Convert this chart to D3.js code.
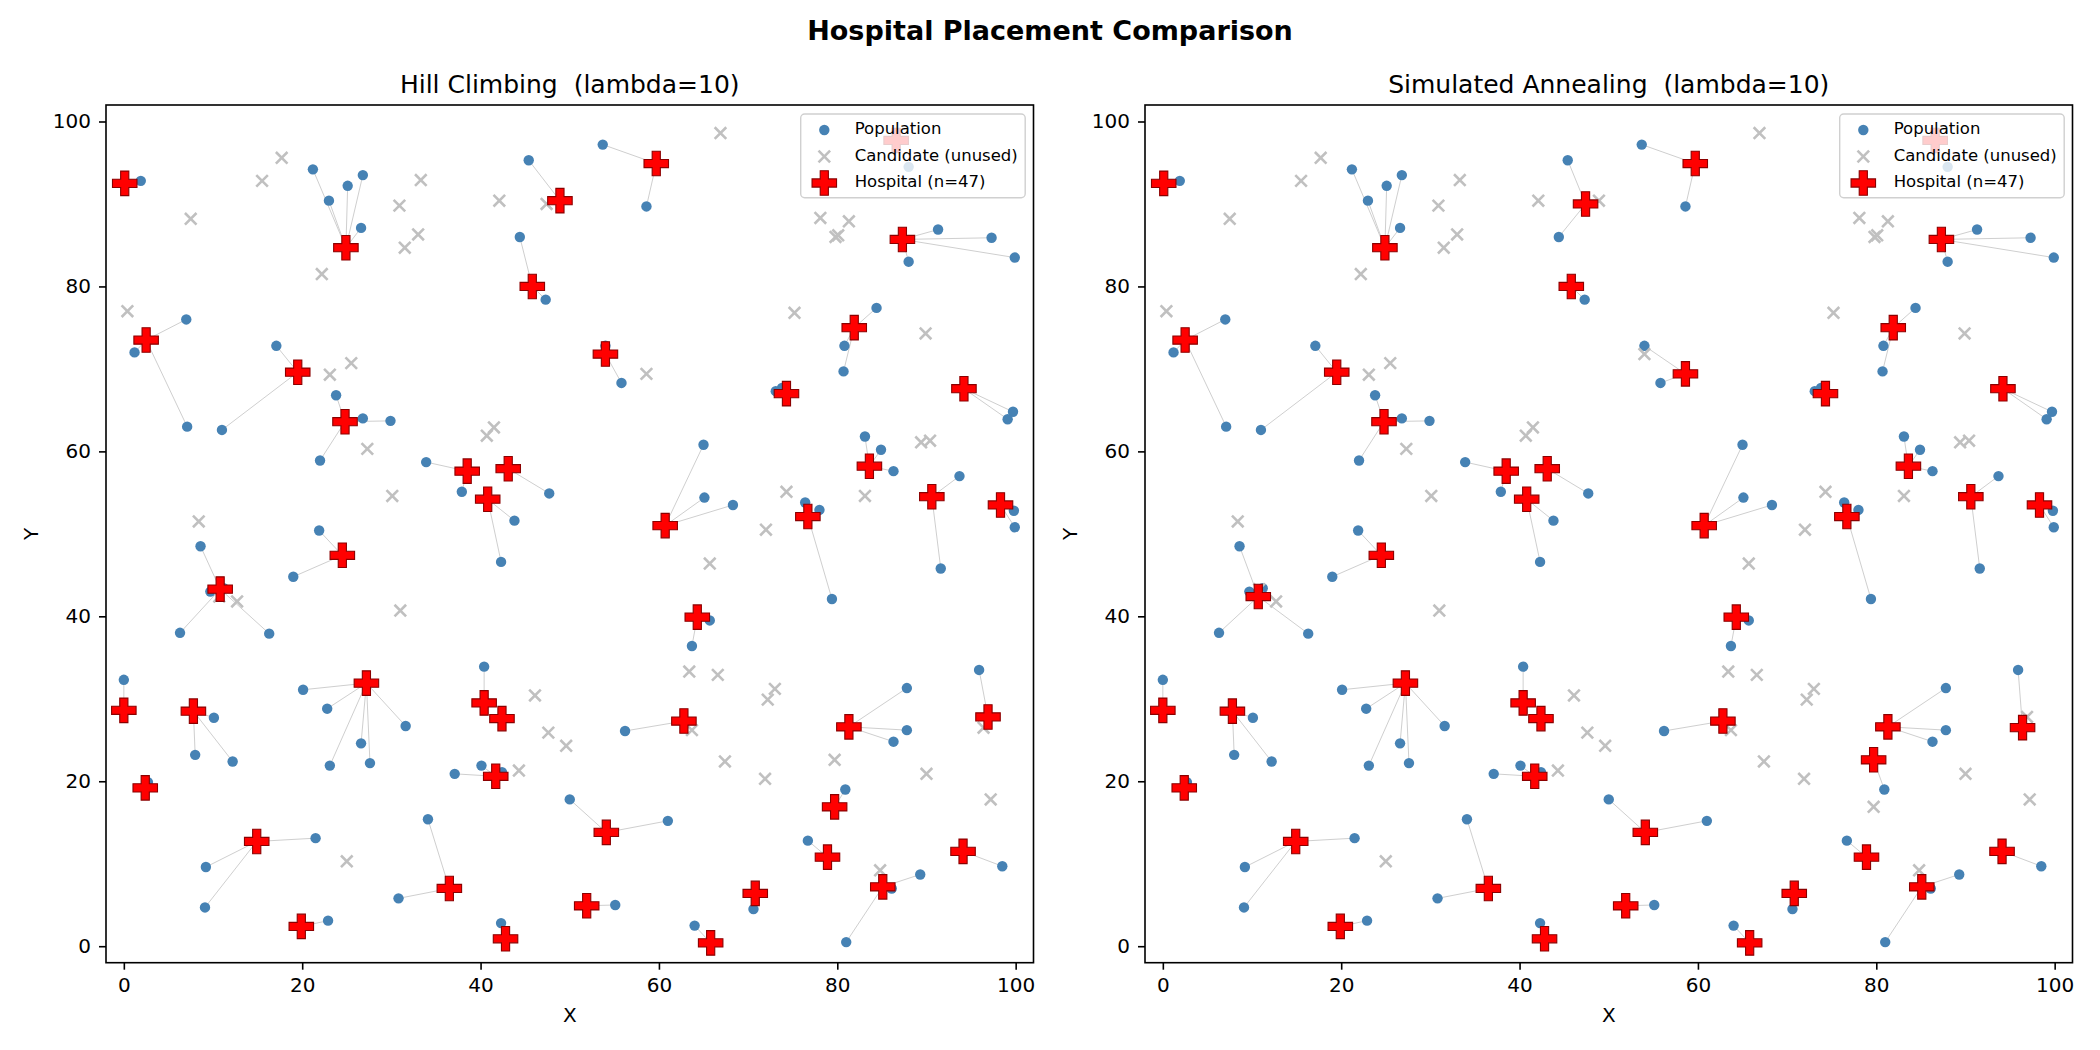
<!DOCTYPE html>
<html>
<head>
<meta charset="utf-8">
<script src="https://cdn.jsdelivr.net/npm/d3@7"></script>
<style>
  body { margin: 0; background: #fff; }
  text { font-family: 'DejaVu Sans', sans-serif; fill: #000; }
</style>
</head>
<body>
<div id="chart"></div>
<script>
// population points (same in both runs)
const population = [
  [1.9, 92.8], [21.2, 94.2], [26.8, 93.5], [25.1, 92.2], [23.0, 90.4], [26.6, 87.1], [45.4, 95.3], [44.4, 86.0], [47.3, 78.4],
  [7.0, 76.0], [1.2, 72.0], [7.1, 63.0], [17.1, 72.8], [11.0, 62.6], [23.8, 66.8], [26.8, 64.0], [29.9, 63.7], [22.0, 58.9],
  [33.9, 58.7], [37.9, 55.1], [47.7, 54.9], [43.8, 51.6], [21.9, 50.4],
  [53.7, 97.2], [58.6, 89.7], [88.0, 94.5], [91.3, 86.9], [97.3, 85.9], [99.9, 83.5], [88.0, 83.0], [84.4, 77.4], [80.8, 72.8], [80.7, 69.7],
  [54.0, 72.8], [55.8, 68.3], [73.1, 67.3], [73.8, 67.7], [99.7, 64.8], [99.1, 63.9], [83.1, 61.8], [84.9, 60.2], [86.3, 57.6], [93.7, 57.0],
  [99.8, 52.8], [99.9, 50.8], [65.0, 60.8], [65.1, 54.4], [68.3, 53.5], [76.4, 53.8], [78.0, 52.9],
  [8.6, 48.5], [9.7, 43.0], [11.2, 43.4], [6.3, 38.0], [16.3, 37.9], [19.0, 44.8], [42.3, 46.6], [0.0, 32.3], [10.1, 27.7], [8.0, 23.2], [12.2, 22.4], [2.7, 19.9],
  [20.1, 31.1], [22.8, 28.8], [31.6, 26.7], [26.6, 24.6], [27.6, 22.2], [23.1, 21.9], [40.4, 33.9], [40.1, 21.9], [37.1, 20.9], [42.4, 21.1], [50.0, 17.8],
  [34.1, 15.4], [30.8, 5.8], [21.5, 13.1], [9.2, 9.6], [9.1, 4.7], [22.9, 3.1], [42.3, 2.8],
  [79.4, 42.1], [91.6, 45.8], [65.7, 39.5], [63.7, 36.4], [87.8, 31.3], [87.8, 26.2], [86.3, 24.8], [95.9, 33.5], [56.2, 26.1], [80.9, 19.0],
  [61.0, 15.2], [76.7, 12.8], [98.5, 9.7], [86.1, 7.0], [89.3, 8.7], [81.0, 0.5], [55.1, 5.0], [70.6, 4.5], [64.0, 2.5]
]

// hospital sites chosen by both methods
const sharedHospitals = [
  [0.1, 92.5], [24.9, 84.7], [45.8, 80.0], [2.5, 73.5], [19.5, 69.6], [24.8, 63.6], [38.5, 57.6], [43.1, 57.9], [40.8, 54.2],
  [59.7, 94.9], [86.6, 97.7], [87.3, 85.7], [81.9, 75.0], [74.3, 67.0], [94.2, 67.6], [83.6, 58.2], [90.6, 54.5], [98.3, 53.5],
  [60.7, 51.0], [76.7, 52.1], [24.5, 47.4], [0.0, 28.6], [7.8, 28.5], [2.4, 19.2], [27.2, 31.9], [40.4, 29.5], [42.4, 27.6],
  [41.7, 20.6], [36.5, 7.0], [14.9, 12.7], [19.9, 2.4], [42.8, 0.9], [64.3, 39.9], [81.3, 26.6], [62.8, 27.3], [54.1, 13.8],
  [78.9, 10.8], [94.1, 11.5], [85.1, 7.2], [51.9, 4.9], [70.8, 6.4], [65.8, 0.4]
]
const hillClimbingOnly = [[48.9, 90.4], [54.0, 71.8], [10.8, 43.3], [96.9, 27.8], [79.7, 16.9]]
const annealingOnly = [[47.4, 90.0], [58.6, 69.4], [10.7, 42.4], [96.4, 26.5], [79.7, 22.6]]

// candidate sites unused by both methods
const unusedSites = [
  [17.7, 95.6], [15.5, 92.8], [7.5, 88.2], [22.2, 81.5], [33.3, 92.9], [30.9, 89.8], [33.0, 86.3], [31.5, 84.7], [42.1, 90.4],
  [0.4, 77.0], [23.1, 69.3], [25.5, 70.7], [27.3, 60.3], [40.7, 61.9], [41.5, 62.9], [30.1, 54.6], [8.4, 51.5],
  [66.9, 98.6], [78.1, 88.3], [81.3, 87.9], [80.1, 86.2], [79.8, 86.0], [75.2, 76.8], [89.9, 74.3], [89.4, 61.1], [90.4, 61.3],
  [83.1, 54.6], [74.3, 55.1], [72.0, 50.5],
  [12.7, 41.8], [31.0, 40.7], [46.1, 30.4], [47.6, 25.9], [49.6, 24.3], [44.3, 21.3], [25.0, 10.3],
  [65.7, 46.4], [63.4, 33.3], [66.6, 32.9], [73.0, 31.2], [72.2, 29.9], [63.7, 26.2], [67.4, 22.4], [71.9, 20.3], [90.0, 20.9],
  [97.2, 17.8], [84.8, 9.2]
]

const axisTicks = [0, 20, 40, 60, 80, 100]
const panelTitles = ['Hill Climbing  (lambda=10)', 'Simulated Annealing  (lambda=10)']

const panels = [
  { title: panelTitles[0], left: 106, hospitals: sharedHospitals.concat(hillClimbingOnly), unused: unusedSites.concat(annealingOnly) },
  { title: panelTitles[1], left: 1145, hospitals: sharedHospitals.concat(annealingOnly), unused: unusedSites.concat(hillClimbingOnly) }
]

const plotTop = 105
const width = 927.5
const height = 857.7

const svg = d3.select('#chart')
  .append('svg')
  .attr('width', 2100)
  .attr('height', 1050)

svg.append('text')
  .attr('x', 1050)
  .attr('y', 40)
  .attr('text-anchor', 'middle')
  .style('font-size', '27px')
  .style('font-weight', 'bold')
  .text('Hospital Placement Comparison')

// filled plus like matplotlib 'P'
function plusPath (s) {
  const a = s / 2
  const b = s / 6
  return `M${-b},${-a}H${b}V${-b}H${a}V${b}H${b}V${a}H${-b}V${b}H${-a}V${-b}H${-b}Z`
}
function crossPath (s) {
  return `M${-s},${-s}L${s},${s}M${-s},${s}L${s},${-s}`
}

panels.forEach(panel => {
  const g = svg.append('g').attr('transform', `translate(${panel.left}, ${plotTop})`)

  const x = d3.scaleLinear().domain([-2, 102]).range([0, width])
  const y = d3.scaleLinear().domain([-2, 102]).range([height, 0])

  // each person linked to its closest hospital
  const links = population.map(p => ({
    p,
    h: d3.least(panel.hospitals, h => (h[0] - p[0]) ** 2 + (h[1] - p[1]) ** 2)
  }))

  g.append('g').selectAll('line')
    .data(links)
    .enter()
    .append('line')
    .attr('x1', d => x(d.p[0]))
    .attr('y1', d => y(d.p[1]))
    .attr('x2', d => x(d.h[0]))
    .attr('y2', d => y(d.h[1]))
    .attr('stroke', '#cfcfcf')
    .attr('stroke-width', 1)

  g.append('g').selectAll('circle')
    .data(population)
    .enter()
    .append('circle')
    .attr('cx', d => x(d[0]))
    .attr('cy', d => y(d[1]))
    .attr('r', 5.2)
    .attr('fill', '#4682b4')

  g.append('g').selectAll('path')
    .data(panel.unused)
    .enter()
    .append('path')
    .attr('transform', d => `translate(${x(d[0])}, ${y(d[1])})`)
    .attr('d', crossPath(5.8))
    .attr('stroke', '#c0c0c0')
    .attr('stroke-width', 2.6)
    .attr('fill', 'none')

  g.append('g').selectAll('path')
    .data(panel.hospitals)
    .enter()
    .append('path')
    .attr('transform', d => `translate(${x(d[0])}, ${y(d[1])})`)
    .attr('d', plusPath(24.5))
    .attr('fill', '#ff0000')
    .attr('stroke', '#8b0000')
    .attr('stroke-width', 1.1)

  // axes
  const xAxis = g.append('g')
    .attr('transform', `translate(0, ${height})`)
    .call(d3.axisBottom(x).tickValues(axisTicks).tickSize(7).tickPadding(8))
  const yAxis = g.append('g')
    .call(d3.axisLeft(y).tickValues(axisTicks).tickSize(7).tickPadding(8))
  ;[xAxis, yAxis].forEach(a => {
    a.select('.domain').remove()
    a.selectAll('line').attr('stroke', '#000').attr('stroke-width', 1.6)
    a.selectAll('text').style('font-size', '20px').style('font-family', "'DejaVu Sans', sans-serif").attr('fill', '#000')
  })

  g.append('rect')
    .attr('width', width)
    .attr('height', height)
    .attr('fill', 'none')
    .attr('stroke', '#000')
    .attr('stroke-width', 1.6)

  g.append('text')
    .attr('x', width / 2)
    .attr('y', height + 59)
    .attr('text-anchor', 'middle')
    .style('font-size', '20px')
    .text('X')
  g.append('text')
    .attr('transform', `translate(-68.5, ${height / 2}) rotate(-90)`)
    .attr('text-anchor', 'middle')
    .style('font-size', '20px')
    .text('Y')

  g.append('text')
    .attr('x', width / 2)
    .attr('y', -12)
    .attr('text-anchor', 'middle')
    .style('font-size', '25px')
    .style('white-space', 'pre')
    .text(panel.title)

  // legend
  const legendW = 224.5
  const legend = g.append('g').attr('transform', `translate(${width - 8.3 - legendW}, 9)`)
  legend.append('rect')
    .attr('width', legendW)
    .attr('height', 83.7)
    .attr('rx', 4)
    .attr('fill', '#fff')
    .attr('fill-opacity', 0.8)
    .attr('stroke', '#d0d0d0')
    .attr('stroke-width', 1.4)
  const rows = [
    { label: 'Population', y: 14.5 },
    { label: 'Candidate (unused)', y: 41 },
    { label: `Hospital (n=${panel.hospitals.length})`, y: 67.5 }
  ]
  legend.append('circle').attr('cx', 23.6).attr('cy', rows[0].y + 1.5).attr('r', 5.2).attr('fill', '#4682b4')
  legend.append('path')
    .attr('transform', `translate(23.6, ${rows[1].y + 1.5})`)
    .attr('d', crossPath(5.8))
    .attr('stroke', '#c0c0c0')
    .attr('stroke-width', 2.6)
  legend.append('path')
    .attr('transform', `translate(23.6, ${rows[2].y + 1.5})`)
    .attr('d', plusPath(24.5))
    .attr('fill', '#ff0000')
    .attr('stroke', '#8b0000')
    .attr('stroke-width', 1.1)
  legend.selectAll('text.lab')
    .data(rows)
    .enter()
    .append('text')
    .attr('class', 'lab')
    .attr('x', 54)
    .attr('y', d => d.y)
    .attr('dy', '0.36em')
    .style('font-size', '16.5px')
    .text(d => d.label)
})
</script>
</body>
</html>
